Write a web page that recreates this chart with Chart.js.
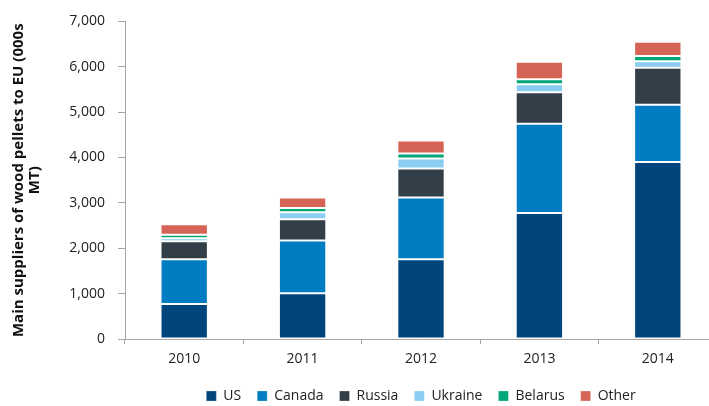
<!DOCTYPE html>
<html>
<head>
<meta charset="utf-8">
<title>Wood pellet suppliers to the EU</title>
<script src="https://cdn.jsdelivr.net/npm/chart.js@4/dist/chart.umd.min.js"></script>
<style>
    html, body { margin: 0; padding: 0; background: #fff; overflow: hidden; }
    #wrap { width: 717px; height: 406px; }
</style>
</head>
<body>
<div id="wrap"><canvas id="chart" width="717" height="406"></canvas></div>
<script>
// Imports by supplier country, thousand tonnes
const years = ['2010', '2011', '2012', '2013', '2014'];
const us      = [770, 1010, 1760, 2775, 3900];
const canada  = [985, 1160, 1360, 1970, 1265];
const russia  = [400, 470, 640, 695, 815];
const ukraine = [65, 155, 220, 175, 140];
const belarus = [80, 95, 110, 110, 115];
const other   = [230, 230, 285, 385, 315];
const yTicks  = [0, 1000, 2000, 3000, 4000, 5000, 6000, 7000];

const fontFamily = "'Open Sans', 'Liberation Sans', sans-serif";
const axisGrey = '#a6a6a6';

function series(label, data, color) {
    return {
        label,
        data,
        backgroundColor: color,
        borderColor: 'rgba(255,255,255,0.25)',
        borderWidth: 1,
        borderSkipped: false,
        barPercentage: 0.4,
        categoryPercentage: 1.0
    };
}

const ctx = document.getElementById('chart').getContext('2d');
new Chart(ctx, {
    type: 'bar',
    data: {
        labels: years,
        datasets: [
            series('US', us, '#00457c'),
            series('Canada', canada, '#007cc2'),
            series('Russia', russia, '#333f48'),
            series('Ukraine', ukraine, '#89cdf0'),
            series('Belarus', belarus, '#00a678'),
            series('Other', other, '#d66456')
        ]
    },
    options: {
        responsive: false,
        animation: false,
        // legend hangs a little past the bottom edge so its row sits low
        layout: { padding: { top: 16, left: 0, right: 0, bottom: -7 } },
        plugins: {
            tooltip: { enabled: false },
            legend: {
                position: 'bottom',
                fullSize: false,
                labels: {
                    boxWidth: 10,
                    boxHeight: 10,
                    padding: 16,
                    color: '#222',
                    font: { family: fontFamily, size: 14 }
                }
            }
        },
        scales: {
            x: {
                stacked: true,
                afterFit: axis => { axis.height = 34; },
                grid: {
                    display: true,
                    drawOnChartArea: false,
                    offset: true,
                    color: axisGrey,
                    tickLength: 5
                },
                border: { color: axisGrey, width: 1 },
                ticks: { color: '#222', font: { family: fontFamily, size: 14 }, padding: 7 }
            },
            y: {
                stacked: true,
                min: 0,
                max: 7000,
                afterBuildTicks: axis => { axis.ticks = yTicks.map(v => ({ value: v })); },
                afterFit: axis => { axis.width = 125; },
                grid: {
                    display: true,
                    drawOnChartArea: false,
                    color: axisGrey,
                    tickLength: 7
                },
                border: { color: axisGrey, width: 1 },
                ticks: {
                    color: '#222',
                    padding: 13,
                    font: { family: fontFamily, size: 14 },
                    callback: v => v.toLocaleString('en-US')
                },
                title: {
                    display: true,
                    text: ['Main suppliers of wood pellets to EU (000s', 'MT)'],
                    color: '#111',
                    font: { family: fontFamily, size: 15, weight: 'bold', lineHeight: 1.05 },
                    padding: { top: 11, bottom: 0 }
                }
            }
        }
    }
});
</script>
</body>
</html>
